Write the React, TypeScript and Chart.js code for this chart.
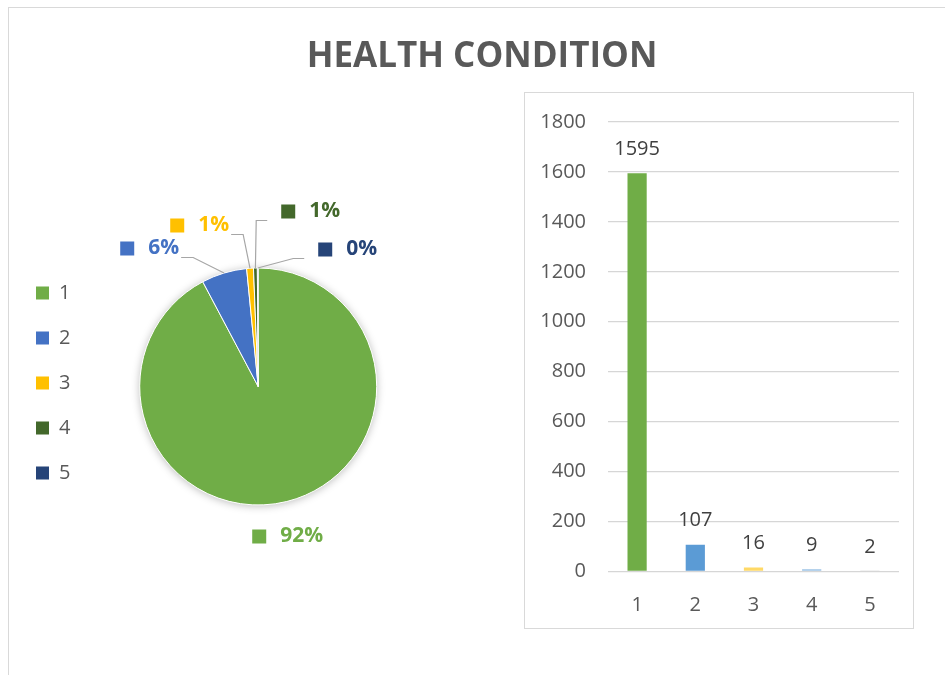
import React, { useEffect, useRef } from 'react';
import { Chart, registerables } from 'chart.js';

Chart.register(...registerables);

// ---- data ----
const categories = ['1', '2', '3', '4', '5'];
const counts = [1595, 107, 16, 9, 2];
const yTickValues = [0, 200, 400, 600, 800, 1000, 1200, 1400, 1600, 1800];
const chartTitle = 'HEALTH CONDITION';

// ---- styles ----
const pieColors = ['#70AD47', '#4472C4', '#FFC000', '#43682B', '#264478'];
const barColors = ['#70AD47', '#5B9BD5', '#FFD966', '#9DC3E6', '#C9C9C9'];
const FONT = '"Open Sans", "Noto Sans", sans-serif';
const TEXT_GRAY = '#595959';
const LEGEND_SHIFT = 51.5;

// label placement relative to pie centre (layout, not data)
const pieLabelLayout = [
  { dx: -6, dy: 150, side: 'none' },
  { dx: -138, dy: -138, side: 'left' },
  { dx: -88, dy: -161, side: 'left' },
  { dx: 23, dy: -175, side: 'right' },
  { dx: 60, dy: -137, side: 'right' },
];

const total = counts.reduce((a, b) => a + b, 0);
const percentLabels = counts.map((v) => Math.round((v / total) * 100) + '%');

const pieLayoutPlugin = {
  id: 'pieLayoutFix',
  afterLayout(chart: any) {
    const t = chart.titleBlock;
    if (t) {
      t.left = 0;
      t.right = chart.width;
      t.width = chart.width;
    }
    const lg = chart.legend;
    if (lg) {
      lg.top += LEGEND_SHIFT;
      lg.bottom += LEGEND_SHIFT;
    }
  },
};

const pieShadowPlugin = {
  id: 'pieShadow',
  beforeDatasetsDraw(chart: any) {
    const arc = chart.getDatasetMeta(0).data[0];
    if (!arc) return;
    const { ctx } = chart;
    ctx.save();
    ctx.shadowColor = 'rgba(0,0,0,0.28)';
    ctx.shadowBlur = 8;
    ctx.shadowOffsetX = 0;
    ctx.shadowOffsetY = 1;
    ctx.fillStyle = '#ffffff';
    ctx.beginPath();
    ctx.arc(arc.x, arc.y, arc.outerRadius, 0, Math.PI * 2);
    ctx.fill();
    ctx.restore();
  },
};

const pieLabelPlugin = {
  id: 'pieLabels',
  afterDatasetsDraw(chart: any) {
    const { ctx } = chart;
    const arcs = chart.getDatasetMeta(0).data;
    ctx.save();
    ctx.font = `bold 21px ${FONT}`;
    ctx.textBaseline = 'middle';
    ctx.textAlign = 'left';
    arcs.forEach((arc: any, i: number) => {
      const lay = pieLabelLayout[i];
      const cx = arc.x;
      const cy = arc.y;
      const sqX = cx + lay.dx;
      const ly = cy + lay.dy;
      const text = percentLabels[i];
      const tx = sqX + 28;
      const tw = ctx.measureText(text).width;
      if (lay.side !== 'none') {
        const mid = (arc.startAngle + arc.endAngle) / 2;
        const ex = cx + arc.outerRadius * Math.cos(mid);
        const ey = cy + arc.outerRadius * Math.sin(mid);
        let p0x, p0y, p1x;
        if (lay.side === 'left') {
          p0x = tx + tw + 2;
          p0y = ly + 9;
          p1x = p0x + 12;
        } else {
          p0x = sqX - 14;
          p0y = ly + 9;
          p1x = p0x - 11;
        }
        ctx.strokeStyle = '#A6A6A6';
        ctx.lineWidth = 1.2;
        ctx.beginPath();
        ctx.moveTo(p0x, p0y);
        ctx.lineTo(p1x, p0y);
        ctx.lineTo(ex, ey);
        ctx.stroke();
      }
      ctx.fillStyle = pieColors[i];
      ctx.fillRect(sqX, ly - 7, 14, 14);
      ctx.fillText(text, tx, ly);
    });
    ctx.restore();
  },
};

const barLabelPlugin = {
  id: 'barLabels',
  afterDatasetsDraw(chart: any) {
    const { ctx } = chart;
    const bars = chart.getDatasetMeta(0).data;
    const values = chart.data.datasets[0].data;
    ctx.save();
    ctx.font = `20px ${FONT}`;
    ctx.fillStyle = '#404040';
    ctx.textAlign = 'center';
    ctx.textBaseline = 'middle';
    bars.forEach((bar: any, i: number) => {
      ctx.fillText(String(values[i]), bar.x, bar.y - 24);
    });
    ctx.restore();
  },
};

export default function App() {
  const pieRef = useRef<HTMLCanvasElement | null>(null);
  const barRef = useRef<HTMLCanvasElement | null>(null);

  useEffect(() => {
    let pie: Chart | null = null;
    let bar: Chart | null = null;
    let cancelled = false;

    const build = () => {
      if (cancelled || !pieRef.current || !barRef.current) return;
      pie = new Chart(pieRef.current, {
        type: 'pie',
        data: {
          labels: categories,
          datasets: [
            {
              data: counts,
              backgroundColor: pieColors,
              borderColor: '#ffffff',
              borderWidth: 1,
              radius: 118.5,
            } as any,
          ],
        },
        options: {
          responsive: false,
          animation: false,
          events: [],
          radius: 118.5,
          layout: { padding: { left: 11, right: 528, top: 0, bottom: 12 } },
          plugins: {
            title: {
              display: true,
              text: chartTitle,
              color: TEXT_GRAY,
              font: { family: FONT, size: 35, weight: 'bold' },
              padding: { top: 36, bottom: 32 },
            },
            legend: {
              position: 'left',
              labels: {
                boxWidth: 13,
                boxHeight: 13,
                padding: 25,
                color: TEXT_GRAY,
                font: { family: FONT, size: 20 },
                generateLabels: (chart: any) =>
                  chart.data.labels.map((l: string, i: number) => ({
                    text: String(l),
                    fillStyle: pieColors[i],
                    strokeStyle: pieColors[i],
                    lineWidth: 0,
                    hidden: false,
                    index: i,
                    fontColor: TEXT_GRAY,
                  })),
              },
            },
            tooltip: { enabled: false },
          },
        } as any,
        plugins: [pieLayoutPlugin, pieShadowPlugin, pieLabelPlugin],
      });

      bar = new Chart(barRef.current, {
        type: 'bar',
        data: {
          labels: categories,
          datasets: [
            {
              data: counts,
              backgroundColor: barColors,
              barPercentage: 0.33,
              categoryPercentage: 1,
            },
          ],
        },
        options: {
          responsive: false,
          animation: false,
          events: [],
          layout: { padding: { left: 0, right: 14, top: 29, bottom: 0 } },
          plugins: {
            legend: { display: false },
            tooltip: { enabled: false },
            title: { display: false },
          },
          scales: {
            x: {
              grid: { display: false, drawTicks: false },
              border: { display: false },
              ticks: { color: TEXT_GRAY, font: { family: FONT, size: 20 }, padding: 22 },
              afterFit: (s: any) => {
                s.height = 56.5;
              },
            },
            y: {
              min: yTickValues[0],
              max: yTickValues[yTickValues.length - 1],
              afterBuildTicks: (s: any) => {
                s.ticks = yTickValues.map((v) => ({ value: v }));
              },
              ticks: {
                color: TEXT_GRAY,
                font: { family: FONT, size: 20 },
                padding: 5,
                callback: (v: any) => String(v),
              },
              grid: {
                color: '#D6D6D6',
                drawTicks: true,
                tickLength: 17,
                tickColor: 'rgba(0,0,0,0)',
                lineWidth: 1.3,
              },
              border: { display: false },
              afterFit: (s: any) => {
                s.width = 83;
              },
            },
          },
        } as any,
        plugins: [barLabelPlugin],
      });
    };

    const fontsReady = (document as any).fonts
      ? Promise.all([
          (document as any).fonts.load(`20px "Open Sans"`),
          (document as any).fonts.load(`bold 20px "Open Sans"`),
        ]).catch(() => null)
      : Promise.resolve(null);
    fontsReady.then(build);

    return () => {
      cancelled = true;
      if (pie) pie.destroy();
      if (bar) bar.destroy();
    };
  }, []);

  return (
    <div
      style={{
        position: 'fixed',
        left: 0,
        top: 0,
        width: 945,
        height: 675,
        overflow: 'hidden',
        background: '#ffffff',
      }}
    >
      <div
        style={{
          position: 'absolute',
          left: 8,
          top: 7,
          width: 1000,
          height: 1000,
          border: '1px solid #D9D9D9',
        }}
      />
      <canvas
        ref={pieRef}
        width={964}
        height={675}
        style={{ position: 'absolute', left: 0, top: 0, width: 964, height: 675 }}
      />
      <div
        style={{
          position: 'absolute',
          left: 524,
          top: 92,
          width: 390,
          height: 537,
          boxSizing: 'border-box',
          border: '1px solid #D9D9D9',
          background: '#ffffff',
        }}
      >
        <canvas ref={barRef} width={388} height={535} style={{ display: 'block', width: 388, height: 535 }} />
      </div>
    </div>
  );
}
